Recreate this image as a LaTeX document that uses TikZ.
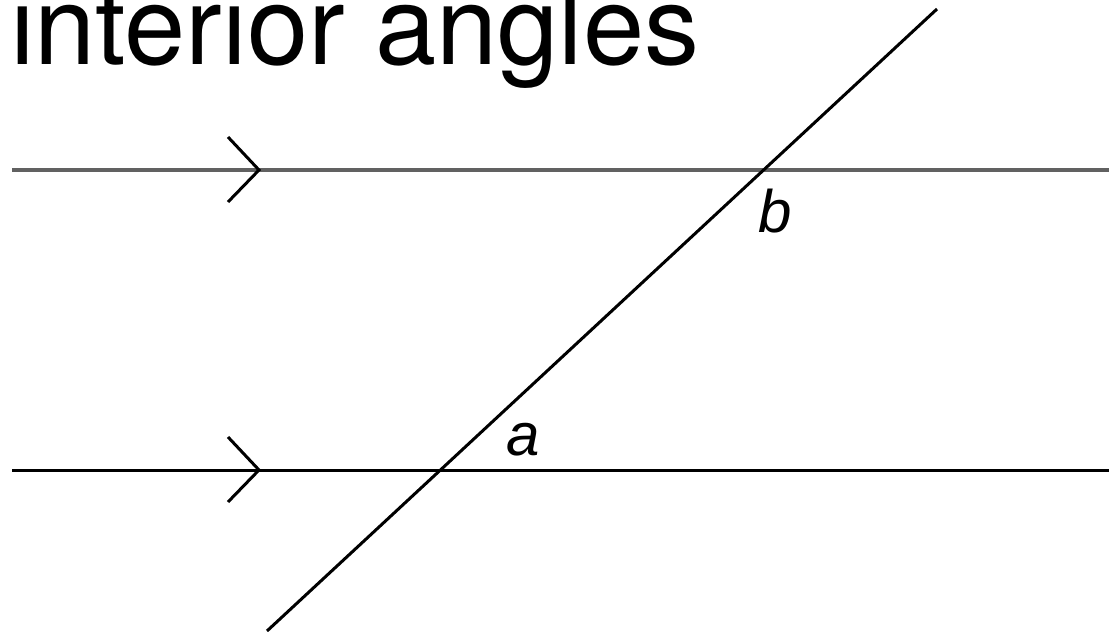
\documentclass[tikz,border=0pt]{standalone}
\usepackage{fontspec}
\setmainfont{TeX Gyre Heros}
\newfontfamily\labfont{Liberation Sans}
\begin{document}
\begin{tikzpicture}[x=1pt,y=-1pt,
  pline/.style={line width=4pt},
  chev/.style={line width=3pt,black},
  trans/.style={line width=3pt,black},
  lab/.style={inner sep=0pt,font=\labfont\itshape\fontsize{60}{60}\selectfont}]
\useasboundingbox (0,0) rectangle (1109,632);
\clip (0,0) rectangle (1109,632);
% title
\node[anchor=base west,inner sep=0pt] (title) at (10,64)
  {\fontsize{110}{110}\selectfont interior angles};
% parallel lines
\coordinate (t1) at (12,170);
\coordinate (t2) at (1109,170);
\coordinate (b1) at (12,470);
\coordinate (b2) at (1109,470);
\draw[pline,black!62] (t1) -- (t2);
\draw[line width=3pt,black] (b1) -- (b2);
% chevrons
\coordinate (tc) at (259,170);
\coordinate (tcu) at (228,137);
\coordinate (tcd) at (228,202);
\draw[chev] (tcu) -- (tc) -- (tcd);
\coordinate (bc) at (259,470);
\coordinate (bcu) at (228,437);
\coordinate (bcd) at (228,502);
\draw[chev] (bcu) -- (bc) -- (bcd);
% transversal
\coordinate (s1) at (267,631);
\coordinate (s2) at (937,9);
\draw[trans] (s1) -- (s2);
% labels
\node[lab,anchor=base] (b) at (775,232) {b};
\node[lab,anchor=base] (a) at (523,455) {a};
\end{tikzpicture}
\end{document}
